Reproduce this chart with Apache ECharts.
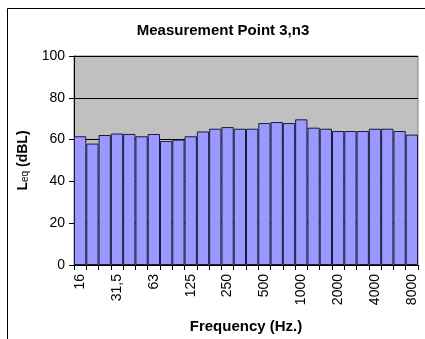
<!DOCTYPE html>
<html>
<head>
<meta charset="utf-8">
<script src="https://cdn.jsdelivr.net/npm/echarts@6/dist/echarts.min.js"></script>
<style>
  html, body { margin: 0; padding: 0; background: #fff; }
  #chart { width: 425px; height: 339px; }
</style>
</head>
<body>
<div id="chart"></div>
<script>
// One-third octave band centre frequencies (Hz)
const bands = ['16', '20', '25', '31,5', '40', '50', '63', '80', '100', '125',
  '160', '200', '250', '315', '400', '500', '630', '800', '1000', '1250',
  '1600', '2000', '2500', '3150', '4000', '5000', '6300', '8000'];

// Equivalent sound level per band (dBL)
const levels = [61.6, 58.1, 62.2, 62.9, 62.7, 61.6, 62.7, 59.3, 60.0, 61.6,
  63.9, 65.2, 66.0, 65.2, 65.2, 67.9, 68.4, 67.9, 69.7, 65.7,
  65.2, 64.1, 64.1, 64.1, 65.2, 65.2, 64.1, 62.4];

const yTicks = [0, 20, 40, 60, 80, 100];

const font = 'Liberation Sans, Arial, sans-serif';
const chart = echarts.init(document.getElementById('chart'));

chart.setOption({
  backgroundColor: '#fff',
  animation: false,
  title: {
    text: 'Measurement Point 3,n3',
    left: 218,
    top: 18,
    textAlign: 'center',
    textStyle: { fontFamily: font, fontSize: 15, fontWeight: 'bold', color: '#000' }
  },
  graphic: [{
    type: 'rect',
    shape: { x: 7.5, y: 8.5, width: 440, height: 360 },
    style: { fill: 'none', stroke: '#000', lineWidth: 1 },
    z: 10
  }],
  grid: {
    left: 74, right: 7, top: 56, bottom: 73,
    show: true,
    backgroundColor: '#c0c0c0',
    borderColor: '#808080',
    borderWidth: 1
  },
  xAxis: {
    type: 'category',
    data: bands,
    name: 'Frequency (Hz.)',
    nameLocation: 'middle',
    nameGap: 54,
    nameTextStyle: { fontFamily: font, fontSize: 15, fontWeight: 'bold', color: '#000' },
    axisLine: { lineStyle: { color: '#000', width: 1 } },
    axisTick: { show: true, interval: 0, length: 5, lineStyle: { color: '#000' } },
    axisLabel: {
      interval: 2,
      rotate: 90,
      margin: 9,
      fontFamily: font,
      fontSize: 14,
      color: '#000'
    },
    splitLine: { show: false }
  },
  yAxis: {
    type: 'value',
    min: yTicks[0],
    max: yTicks[yTicks.length - 1],
    interval: 20,
    name: '{b|L}{s|eq}{b| (dBL)}',
    nameLocation: 'middle',
    nameGap: 37,
    nameRotate: 90,
    nameTextStyle: {
      rich: {
        b: { fontFamily: font, fontSize: 14, fontWeight: 'bold', color: '#000' },
        s: { fontFamily: font, fontSize: 10, color: '#000', verticalAlign: 'bottom', padding: [5, 0, 0, 0] }
      }
    },
    axisLine: { show: true, lineStyle: { color: '#000', width: 1 } },
    axisTick: { show: true, length: 5, lineStyle: { color: '#000' } },
    axisLabel: { margin: 9, fontFamily: font, fontSize: 14, color: '#000' },
    splitLine: { show: true, lineStyle: { color: '#000', width: 1 } }
  },
  series: [{
    type: 'bar',
    data: levels,
    barCategoryGap: 0,
    itemStyle: { color: '#9999ff', borderColor: '#1a1a40', borderWidth: 1 }
  }]
});
</script>
</body>
</html>
